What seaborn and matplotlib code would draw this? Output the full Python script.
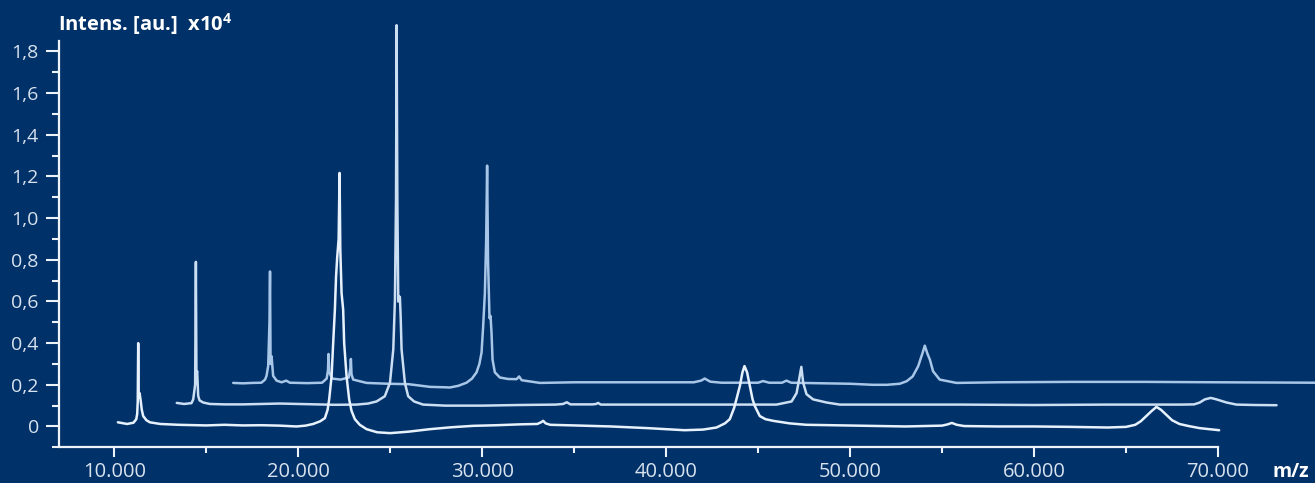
import numpy as np
import pandas as pd
import matplotlib
matplotlib.use("Agg")
import matplotlib.pyplot as plt
import seaborn as sns

# ---- data (m/z in Da, intensity in x10^4 a.u., as displayed incl. offsets) ----
bottom_mz = [10200, 10700, 11050, 11200, 11250, 11280, 11305, 11330, 11380, 11430, 11500,
             11576, 11750, 11940, 12500, 13500, 15000, 16000, 17000, 18000, 19000, 19910,
             20400, 20816, 21200, 21452, 21600, 21685, 21816, 21903, 21995, 22060, 22120,
             22200, 22250, 22290, 22359, 22446, 22500, 22631, 22772, 22900, 23082, 23350,
             23718, 24300, 25000, 26000, 27160, 28300,
             29510, 30800, 32000, 33000, 33200, 33320, 33450, 33700, 35000, 37000, 39000,
             41000, 42000, 42740, 43200, 43460, 43700, 43850, 44010, 44150, 44260, 44400,
             44550, 44700, 44820, 45090, 45400, 45820, 46700, 47630, 49000, 51000, 53000,
             55000, 55300, 55530, 55800, 56200, 58000, 60000, 62000, 64000, 65000, 65500,
             65800, 66100, 66400, 66654, 66900, 67200, 67500, 67900, 68400, 69000, 70060]
bottom_int = [0.020, 0.012, 0.018, 0.035, 0.060, 0.120, 0.400, 0.140, 0.160, 0.130, 0.080,
              0.050, 0.030, 0.020, 0.012, 0.008, 0.005, 0.008, 0.005, 0.006, 0.004, 0.000,
              0.004, 0.012, 0.025, 0.040, 0.080, 0.130, 0.240, 0.400, 0.560, 0.720, 0.810,
              0.900, 1.217, 0.850, 0.640, 0.560, 0.400, 0.240, 0.130, 0.075, 0.035, 0.008,
              -0.013, -0.028, -0.032, -0.025, -0.013, -0.004,
              0.003, 0.006, 0.010, 0.012, 0.020, 0.027, 0.015, 0.008, 0.005, 0.000, -0.008,
              -0.018, -0.015, -0.005, 0.015, 0.035, 0.090, 0.140, 0.195, 0.260, 0.290, 0.260,
              0.195, 0.130, 0.098, 0.050, 0.035, 0.027, 0.015, 0.008, 0.006, 0.003, 0.000,
              0.004, 0.010, 0.017, 0.008, 0.002, 0.000, 0.000, -0.002, -0.005, -0.002, 0.008,
              0.025, 0.050, 0.075, 0.094, 0.080, 0.055, 0.030, 0.012, 0.002, -0.008, -0.018]

middle_mz = [13400, 13800, 14200, 14295, 14400, 14440, 14470, 14510, 14565, 14640, 14840,
             15200, 16000, 17000, 18000, 19000, 20000, 21000, 22000, 23170, 23800, 24260,
             24710, 24990, 25170, 25260, 25320, 25350, 25390, 25440, 25490, 25530, 25570,
             25620, 25800, 25980, 26300, 26790, 28000, 30000, 32000, 34000, 34400, 34600,
             34800, 36000, 36200, 36300, 36450, 38000, 40000, 42000, 44000, 46000, 46820,
             47090, 47230, 47350, 47450, 47630, 47990, 48720, 49440, 52000, 56000, 60000,
             64000, 68000, 68700, 69008, 69280, 69606, 69915, 70460, 71000, 72000, 73180]
middle_int = [0.113, 0.108, 0.112, 0.130, 0.200, 0.790, 0.250, 0.265, 0.147, 0.125, 0.115,
              0.108, 0.106, 0.106, 0.108, 0.110, 0.108, 0.106, 0.104, 0.105, 0.110, 0.120,
              0.145, 0.210, 0.370, 0.610, 1.100, 1.926, 1.100, 0.600, 0.625, 0.620, 0.530,
              0.370, 0.210, 0.145, 0.120, 0.105, 0.100, 0.100, 0.103, 0.105, 0.108, 0.116,
              0.106, 0.106, 0.108, 0.113, 0.105, 0.105, 0.105, 0.105, 0.105, 0.105, 0.120,
              0.160, 0.226, 0.286, 0.210, 0.155, 0.130, 0.115, 0.105, 0.105, 0.105, 0.103,
              0.105, 0.105, 0.106, 0.115, 0.130, 0.137, 0.130, 0.115, 0.105, 0.103, 0.102]

top_mz = [16470, 17000, 17500, 18000, 18200, 18280, 18370, 18440, 18470, 18500, 18555,
          18640, 18830, 19100, 19350, 19550, 20500, 21300, 21550, 21620, 21650, 21690,
          21850, 22300, 22750, 22840, 22865, 22900, 22990, 23720, 24890, 26000, 27170,
          28000, 28245, 28700, 29150, 29450, 29696, 29850, 29968, 30055, 30148, 30220,
          30270, 30320, 30400, 30457, 30510, 30566, 30690, 30963, 31400, 31870, 32010,
          32150, 33140, 35000, 38000,
          41500, 41900, 42100, 42400, 43000, 45000, 45270, 45600, 46300, 46540, 46800,
          48000, 50000, 51240, 52000, 52700, 53070, 53400, 53700, 53940, 54060, 54200,
          54340, 54510, 54870, 55780, 58000, 62000, 66000, 70000, 75300]
top_int = [0.209, 0.207, 0.209, 0.210, 0.225, 0.243, 0.290, 0.500, 0.744, 0.300, 0.337,
           0.243, 0.220, 0.212, 0.220, 0.210, 0.208, 0.210, 0.230, 0.270, 0.348, 0.260,
           0.230, 0.225, 0.235, 0.280, 0.324, 0.250, 0.225, 0.209, 0.205, 0.203, 0.190,
           0.188, 0.187, 0.195, 0.210, 0.230, 0.260, 0.300, 0.355, 0.480, 0.640, 0.900,
           1.252, 0.800, 0.520, 0.530, 0.450, 0.320, 0.260, 0.235, 0.228, 0.227, 0.240,
           0.222, 0.209, 0.212, 0.212,
           0.212, 0.220, 0.230, 0.215, 0.210, 0.210, 0.218, 0.210, 0.210, 0.220, 0.210,
           0.208, 0.205, 0.200, 0.200, 0.205, 0.217, 0.240, 0.289, 0.353, 0.388, 0.350,
           0.320, 0.265, 0.225, 0.209, 0.212, 0.214, 0.214, 0.212, 0.210]

y_ticks = [0.0, 0.2, 0.4, 0.6, 0.8, 1.0, 1.2, 1.4, 1.6, 1.8]
y_tick_labels = ["0", "0,2", "0,4", "0,6", "0,8", "1,0", "1,2", "1,4", "1,6", "1,8"]
x_ticks = [10000, 20000, 30000, 40000, 50000, 60000, 70000]
x_tick_labels = ["10.000", "20.000", "30.000", "40.000", "50.000", "60.000", "70.000"]

# ---- style ----
BG = "#003169"
sns.set_style("ticks")
plt.rcParams["font.family"] = ["Open Sans", "DejaVu Sans"]
plt.rcParams["mathtext.fontset"] = "custom"
plt.rcParams["mathtext.rm"] = "Open Sans"
plt.rcParams["mathtext.bf"] = "Open Sans:bold"

W, H = 1315, 483
fig = plt.figure(figsize=(W / 100, H / 100), dpi=100, facecolor=BG)
ax = fig.add_axes([59 / W, (H - 447.3) / H, 1 - 59 / W, 447.3 / H])
ax.set_facecolor(BG)

traces = [
    (top_mz, top_int, "#a8c6e8"),
    (middle_mz, middle_int, "#cbdef2"),
    (bottom_mz, bottom_int, "#e8f2fc"),
]
for mz, inten, col in traces:
    df = pd.DataFrame({"mz": mz, "intensity": inten})
    sns.lineplot(data=df, x="mz", y="intensity", sort=False, estimator=None,
                 color=col, linewidth=1.8, ax=ax)

ax.set_xlim(7000, 75270)
ax.set_ylim(-0.096, 2.047)

spine_col = "#eef3f9"
for s in ["top", "right"]:
    ax.spines[s].set_visible(False)
ax.spines["left"].set_color(spine_col)
ax.spines["bottom"].set_color(spine_col)
ax.spines["left"].set_linewidth(1.6)
ax.spines["bottom"].set_linewidth(1.6)
ax.spines["left"].set_bounds(-0.096, 1.85)
ax.spines["bottom"].set_bounds(7000, 70000)

ax.set_yticks(y_ticks)
ax.set_yticklabels(y_tick_labels)
ax.set_yticks([-0.1, 0.1, 0.3, 0.5, 0.7, 0.9, 1.1, 1.3, 1.5, 1.7], minor=True)
ax.set_xticks(x_ticks)
ax.set_xticklabels(x_tick_labels)
ax.set_xticks([15000, 25000, 35000, 45000, 55000, 65000], minor=True)

lab_col = "#d8e2ee"
ax.tick_params(axis="y", which="major", length=9.5, width=1.5, color=spine_col,
               labelcolor=lab_col, labelsize=14, pad=5)
ax.tick_params(axis="y", which="minor", length=5, width=1.5, color=spine_col)
ax.tick_params(axis="x", which="major", length=7.5, width=1.5, color=spine_col,
               labelcolor=lab_col, labelsize=14.5, pad=3)
ax.tick_params(axis="x", which="minor", length=4.5, width=1.5, color=spine_col)
ax.set_xlabel("")
ax.set_ylabel("")

fig.text(58 / W, 1 - 31 / H, r"Intens. [au.]  x10$^{\mathbf{4}}$", ha="left",
         va="baseline", color="white", fontsize=14.5, fontweight="bold")
fig.text(1272 / W, 1 - 477 / H, "m/z", ha="left", va="baseline", color="white",
         fontsize=14, fontweight="bold")

fig.savefig("out.png", dpi=100, facecolor=BG)
